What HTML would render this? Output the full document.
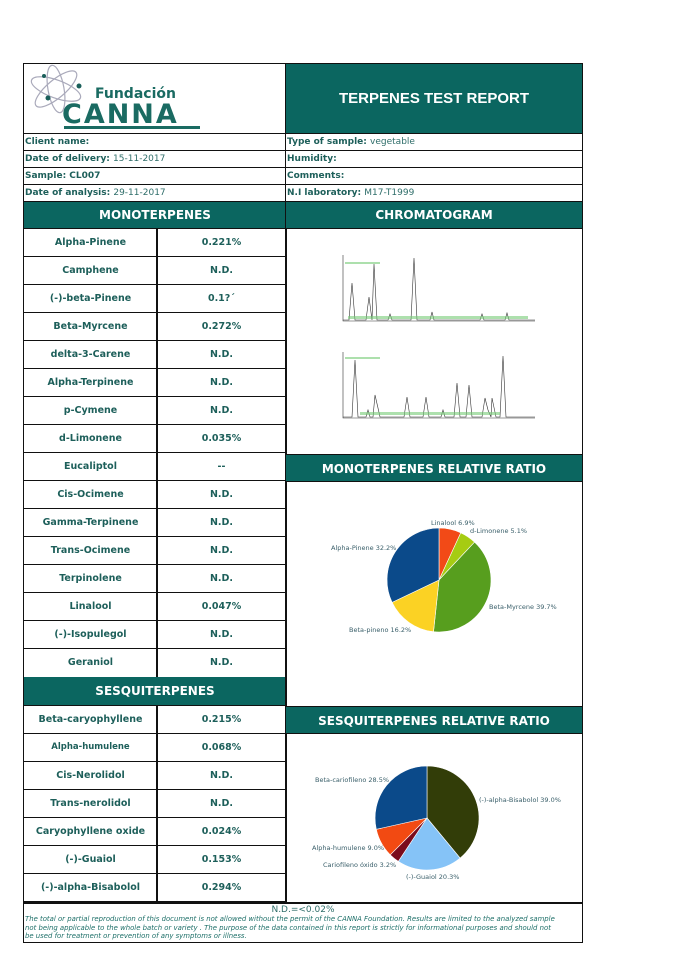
<!DOCTYPE html>
<html><head><meta charset="utf-8"><style>
body{margin:0;width:678px;height:960px;background:#fff;position:relative;overflow:hidden;font-family:"DejaVu Sans","Liberation Sans",sans-serif}
.a{position:absolute;box-sizing:border-box}
.h{background:#0b6660;color:#fff;font-weight:bold;text-align:center}
.r{left:24px;width:262px;height:28px;border-bottom:1.5px solid #111}
.r span{position:absolute;top:0;height:28px;line-height:27px;text-align:center;color:#1d5f5a;font-size:9.5px;font-weight:bold}
.r span.n{left:0;width:133px}.r span.v{left:133px;width:129px}
.r:before{content:"";position:absolute;left:132px;top:0;width:1.5px;height:28px;background:#111}
.i{height:17px;line-height:16px;font-size:9px;border-bottom:1.5px solid #111;padding-left:1px}
.i b{color:#1d5f5a}.i s{text-decoration:none;font-weight:normal;color:#2f6e6a}
</style></head><body>
<div class="a" style="left:23px;top:63px;width:560px;height:880px;border:1.5px solid #111"></div>
<div class="a" style="left:24px;top:64px;width:261px;height:70px;border-bottom:1.5px solid #111">
<svg width="261" height="70" style="position:absolute;left:0;top:0">
<g fill="none" stroke="#aab" stroke-width="1.2"><ellipse cx="32" cy="25" rx="26" ry="9" transform="rotate(20 32 25)"/><ellipse cx="32" cy="25" rx="26" ry="9" transform="rotate(-40 32 25)"/><ellipse cx="32" cy="25" rx="24" ry="8" transform="rotate(80 32 25)"/></g>
<circle cx="24" cy="34" r="2.5" fill="#1a5f5a"/><circle cx="55" cy="22" r="2.5" fill="#1a5f5a"/><circle cx="20" cy="12" r="2" fill="#1a5f5a"/>
<text x="71" y="34" font-family="DejaVu Sans" font-weight="bold" font-size="14" fill="#1a6b62">Fundación</text>
<text x="38" y="59" font-family="DejaVu Sans" font-weight="bold" font-size="27" fill="#1a6b62" letter-spacing="2">CANNA</text>
<rect x="40" y="62" width="136" height="3" fill="#1a6b62"/>
</svg></div>
<div class="a h" style="left:285px;top:64px;width:297px;height:70px;line-height:70px;font-size:15px;font-family:'Liberation Sans',sans-serif;border-left:1.5px solid #111;border-bottom:1.5px solid #111">TERPENES TEST REPORT</div>
<div class="a i" style="left:24px;top:134px;width:262px"><b>Client name:</b></div>
<div class="a i" style="left:24px;top:151px;width:262px"><b>Date of delivery: </b><s>15-11-2017</s></div>
<div class="a i" style="left:24px;top:168px;width:262px"><b>Sample: CL007</b></div>
<div class="a i" style="left:24px;top:185px;width:262px"><b>Date of analysis: </b><s>29-11-2017</s></div>
<div class="a i" style="left:285px;top:134px;width:297px;border-left:1.5px solid #111"><b>Type of sample: </b><s>vegetable</s></div>
<div class="a i" style="left:285px;top:151px;width:297px;border-left:1.5px solid #111"><b>Humidity:</b></div>
<div class="a i" style="left:285px;top:168px;width:297px;border-left:1.5px solid #111"><b>Comments:</b></div>
<div class="a i" style="left:285px;top:185px;width:297px;border-left:1.5px solid #111"><b>N.I laboratory: </b><s>M17-T1999</s></div>
<div class="a h" style="left:24px;top:202px;width:262px;height:27px;line-height:27px;font-size:12px;border-bottom:1.5px solid #111">MONOTERPENES</div>
<div class="a h" style="left:285px;top:202px;width:297px;height:27px;line-height:27px;font-size:12px;border-left:1.5px solid #111;border-bottom:1.5px solid #111">CHROMATOGRAM</div>
<div class="a r" style="top:229px"><span class="n">Alpha-Pinene</span><span class="v">0.221%</span></div>
<div class="a r" style="top:257px"><span class="n">Camphene</span><span class="v">N.D.</span></div>
<div class="a r" style="top:285px"><span class="n">(-)-beta-Pinene</span><span class="v">0.1?´</span></div>
<div class="a r" style="top:313px"><span class="n">Beta-Myrcene</span><span class="v">0.272%</span></div>
<div class="a r" style="top:341px"><span class="n">delta-3-Carene</span><span class="v">N.D.</span></div>
<div class="a r" style="top:369px"><span class="n">Alpha-Terpinene</span><span class="v">N.D.</span></div>
<div class="a r" style="top:397px"><span class="n">p-Cymene</span><span class="v">N.D.</span></div>
<div class="a r" style="top:425px"><span class="n">d-Limonene</span><span class="v">0.035%</span></div>
<div class="a r" style="top:453px"><span class="n">Eucaliptol</span><span class="v">--</span></div>
<div class="a r" style="top:481px"><span class="n">Cis-Ocimene</span><span class="v">N.D.</span></div>
<div class="a r" style="top:509px"><span class="n">Gamma-Terpinene</span><span class="v">N.D.</span></div>
<div class="a r" style="top:537px"><span class="n">Trans-Ocimene</span><span class="v">N.D.</span></div>
<div class="a r" style="top:565px"><span class="n">Terpinolene</span><span class="v">N.D.</span></div>
<div class="a r" style="top:593px"><span class="n">Linalool</span><span class="v">0.047%</span></div>
<div class="a r" style="top:621px"><span class="n">(-)-Isopulegol</span><span class="v">N.D.</span></div>
<div class="a r" style="top:649px;border-bottom:none"><span class="n">Geraniol</span><span class="v">N.D.</span></div>
<div class="a h" style="left:24px;top:677px;width:262px;height:29px;line-height:29px;font-size:12px;border-bottom:1.5px solid #111">SESQUITERPENES</div>
<div class="a r" style="top:706px"><span class="n">Beta-caryophyllene</span><span class="v">0.215%</span></div>
<div class="a r" style="top:734px"><span class="n" style="font-size:8.5px">Alpha-humulene</span><span class="v">0.068%</span></div>
<div class="a r" style="top:762px"><span class="n">Cis-Nerolidol</span><span class="v">N.D.</span></div>
<div class="a r" style="top:790px"><span class="n">Trans-nerolidol</span><span class="v">N.D.</span></div>
<div class="a r" style="top:818px"><span class="n">Caryophyllene oxide</span><span class="v">0.024%</span></div>
<div class="a r" style="top:846px"><span class="n">(-)-Guaiol</span><span class="v">0.153%</span></div>
<div class="a r" style="top:874px"><span class="n">(-)-alpha-Bisabolol</span><span class="v">0.294%</span></div>
<div class="a" style="left:285px;top:229px;width:1.5px;height:673px;background:#111"></div>
<div class="a h" style="left:285px;top:454px;width:297px;height:28px;line-height:28px;font-size:12px;border-left:1.5px solid #111;border-top:1.5px solid #111;border-bottom:1.5px solid #111">MONOTERPENES RELATIVE RATIO</div>
<div class="a h" style="left:285px;top:706px;width:297px;height:28px;line-height:28px;font-size:12px;border-left:1.5px solid #111;border-top:1.5px solid #111;border-bottom:1.5px solid #111">SESQUITERPENES RELATIVE RATIO</div>
<svg class="a" style="left:0;top:0" width="678" height="960">
<g stroke="#333" stroke-width="0.6" fill="none">
<path d="M343 255V321H535"/><path d="M343 352V418H535"/>
<path d="M343 320 L349 320 L352 283 L355 320 L366 320 L369 297 L372 320 L374 264 L377 320 L388 320 L390 314 L392 320 L411 320 L414 258 L417 320 L430 320 L432 312 L434 320 L480 320 L482 314 L484 320 L505 320 L507 313 L509 320 L535 320"/>
<path d="M343 417 L352 417 L355 360 L358 417 L366 417 L368 410 L370 417 L373 417 L375 395 L378 408 L380 417 L404 417 L407 397 L410 417 L423 417 L426 397 L429 417 L441 417 L443 410 L445 417 L454 417 L457 383 L460 417 L466 417 L469 385 L472 417 L482 417 L485 398 L488 410 L491 417 L492 398 L496 417 L500 417 L503 356 L506 417 L535 417"/>
</g>
<g fill="#7c7" opacity=".6"><rect x="348" y="316" width="180" height="3"/><rect x="345" y="262" width="35" height="2"/><rect x="345" y="357" width="35" height="2"/><rect x="360" y="412" width="140" height="3"/></g>
<g stroke="#fff" stroke-width="0.6">
<path d="M439 580L439 528A52 52 0 0 1 460.8 532.8Z" fill="#f24a17"/>
<path d="M439 580L460.8 532.8A52 52 0 0 1 474.6 542.1Z" fill="#a6cc12"/>
<path d="M439 580L474.6 542.1A52 52 0 0 1 433.5 631.7Z" fill="#579e1e"/>
<path d="M439 580L433.5 631.7A52 52 0 0 1 392.1 602.4Z" fill="#fbd224"/>
<path d="M439 580L392.1 602.4A52 52 0 0 1 439 528Z" fill="#0b4a8a"/>
</g>
<g font-family="DejaVu Sans" font-size="6.5" fill="#3a5f6a">
<text x="431" y="525">Linalool 6.9%</text><text x="470" y="533">d-Limonene 5.1%</text>
<text x="331" y="550">Alpha-Pinene 32.2%</text><text x="489" y="609">Beta-Myrcene 39.7%</text>
<text x="349" y="632">Beta-pineno 16.2%</text>
</g>
<g stroke="#fff" stroke-width="0.6">
<path d="M427 818L427 766A52 52 0 0 1 460.1 858.1Z" fill="#323d08"/>
<path d="M427 818L460.1 858.1A52 52 0 0 1 398.3 861.4Z" fill="#85c3f7"/>
<path d="M427 818L398.3 861.4A52 52 0 0 1 390.2 854.8Z" fill="#7a0b1c"/>
<path d="M427 818L390.2 854.8A52 52 0 0 1 376.3 829.3Z" fill="#f24a12"/>
<path d="M427 818L376.3 829.3A52 52 0 0 1 427 766Z" fill="#0b4a8a"/>
</g>
<g font-family="DejaVu Sans" font-size="6.5" fill="#3a5f6a">
<text x="315" y="782">Beta-cariofileno 28.5%</text><text x="479" y="802">(-)-alpha-Bisabolol 39.0%</text>
<text x="312" y="850">Alpha-humulene 9.0%</text><text x="323" y="867">Cariofileno óxido 3.2%</text>
<text x="406" y="879">(-)-Guaiol 20.3%</text>
</g>
</svg>
<div class="a" style="left:24px;top:902px;width:558px;height:1.5px;background:#111"></div>
<div class="a" style="left:24px;top:905px;width:558px;text-align:center;font-size:9px;color:#2f6e6a">N.D.=&lt;0.02%</div>
<div class="a" style="left:25px;top:915px;width:558px;font-size:6.9px;line-height:8.5px;color:#1d6f68;font-style:italic">The total or partial reproduction of this document is not allowed without the permit of the CANNA Foundation. Results are limited to the analyzed sample<br>not being applicable to the whole batch or variety . The purpose of the data contained in this report is strictly for informational purposes and should not<br>be used for treatment or prevention of any symptoms or illness.</div>
</body></html>
